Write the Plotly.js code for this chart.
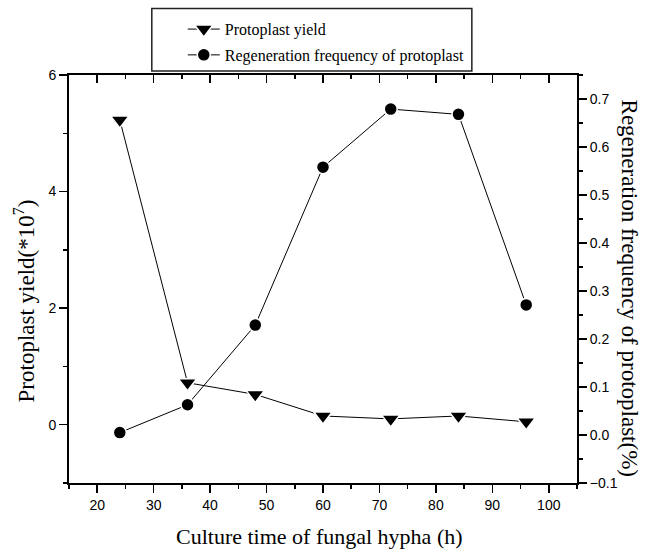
<!DOCTYPE html>
<html>
<head>
<meta charset="utf-8">
<script src="https://cdn.plot.ly/plotly-3.0.1.min.js"></script>
<style>html,body{margin:0;padding:0;background:#fff}#chart{width:646px;height:550px}</style>
</head>
<body>
<div id="chart"></div>
<script>
// Data
const hours = [24, 36, 48, 60, 72, 84, 96];
const protoplastYield = [5.23, 0.72, 0.52, 0.15, 0.10, 0.15, 0.05];           // *10^7, left axis
const regenerationFreq = [0.005, 0.063, 0.229, 0.558, 0.679, 0.668, 0.271];  // %, right axis
const xTicks = [20, 30, 40, 50, 60, 70, 80, 90, 100];
const seriesNames = ['Protoplast yield', 'Regeneration frequency of protoplast'];
const xTitle = 'Culture time of fungal hypha (h)';
const yTitle = 'Protoplast yield(*10<sup>7</sup>)';
const y2Title = 'Regeneration frequency of protoplast(%)';

const serif = 'Liberation Serif, Times New Roman, serif';
const sans = 'Liberation Sans, Arial, sans-serif';

const traces = [
  {
    x: hours, y: protoplastYield, name: seriesNames[0], type: 'scatter', mode: 'lines+markers',
    xaxis: 'x', yaxis: 'y', legendgroup: 'a',
    line: {color: '#000', width: 1},
    marker: {symbol: 'triangle-down', size: 16, color: '#000', line: {color: '#fff', width: 1.5}}
  },
  {
    x: hours, y: regenerationFreq, name: seriesNames[1], type: 'scatter', mode: 'lines+markers',
    xaxis: 'x', yaxis: 'y2', legendgroup: 'b',
    line: {color: '#000', width: 1},
    marker: {symbol: 'circle', size: 13, color: '#000', line: {color: '#fff', width: 1.5}}
  }
];

const axisCommon = {
  showgrid: false, zeroline: false, showline: true, linecolor: '#000', linewidth: 2,
  tickcolor: '#000', tickwidth: 1.5, ticklen: 8,
  tickfont: {family: sans, size: 14, color: '#000'}
};

const layout = {
  width: 646, height: 550,
  margin: {l: 69, r: 69, t: 72, b: 67},
  paper_bgcolor: '#fff', plot_bgcolor: '#fff',
  showlegend: true,
  legend: {
    x: 0.224, y: 1.154, xanchor: 'left', yanchor: 'top',
    bgcolor: 'rgba(0,0,0,0)', borderwidth: 0,
    font: {family: serif, size: 16, color: '#000'},
    itemwidth: 32, tracegroupgap: 2
  },
  xaxis: Object.assign({}, axisCommon, {
    range: [15, 105], tickvals: xTicks, ticks: 'outside',
    minor: {dtick: 5, tick0: 0, ticks: 'outside', ticklen: 4, tickcolor: '#000', tickwidth: 1.5}
  }),
  xaxis2: Object.assign({}, axisCommon, {
    range: [15, 105], tickvals: xTicks, ticks: 'inside', side: 'top', overlaying: 'x',
    showticklabels: false,
    minor: {dtick: 5, tick0: 0, ticks: 'inside', ticklen: 4, tickcolor: '#000', tickwidth: 1.5}
  }),
  yaxis: Object.assign({}, axisCommon, {
    range: [-1, 6], tick0: 0, dtick: 2, ticks: 'outside',
    minor: {dtick: 1, tick0: 0, ticks: 'outside', ticklen: 4, tickcolor: '#000', tickwidth: 1.5}
  }),
  yaxis2: Object.assign({}, axisCommon, {
    range: [-0.1, 0.75], tick0: 0, dtick: 0.1, tickformat: '.1f', ticks: 'outside',
    side: 'right', overlaying: 'y',
    minor: {dtick: 0.05, tick0: 0, ticks: 'outside', ticklen: 4, tickcolor: '#000', tickwidth: 1.5}
  }),
  shapes: [
    {type: 'rect', xref: 'paper', yref: 'paper', x0: 0.163, x1: 0.793, y0: 1.0097, y1: 1.163,
     line: {color: '#222', width: 1.5}, fillcolor: 'rgba(0,0,0,0)'}
  ],
  annotations: [
    {text: xTitle, xref: 'paper', yref: 'paper', x: 0.494, y: -0.131,
     xanchor: 'center', yanchor: 'middle', showarrow: false,
     font: {family: serif, size: 22, color: '#000'}},
    {text: yTitle, textangle: -90, xref: 'paper', yref: 'paper', x: -0.087, y: 0.447,
     xanchor: 'center', yanchor: 'middle', showarrow: false,
     font: {family: serif, size: 23, color: '#000'}},
    {text: y2Title, textangle: 90, xref: 'paper', yref: 'paper', x: 1.104, y: 0.477,
     xanchor: 'center', yanchor: 'middle', showarrow: false,
     font: {family: serif, size: 23, color: '#000'}}
  ]
};

// invisible helper trace that activates the top axis (inward ticks)
traces.push({x: [15], y: [-1], xaxis: 'x2', yaxis: 'y', mode: 'markers', marker: {opacity: 0}, showlegend: false, hoverinfo: 'skip'});

Plotly.newPlot('chart', traces, layout, {displayModeBar: false, staticPlot: true});
</script>
</body>
</html>
